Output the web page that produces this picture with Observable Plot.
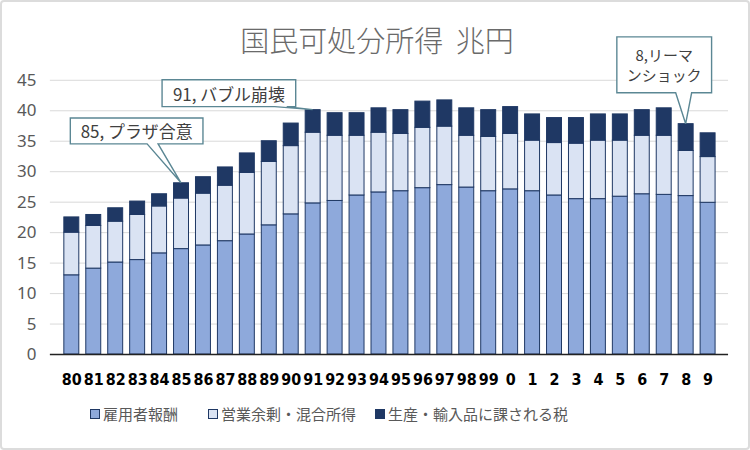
<!DOCTYPE html>
<html><head><meta charset="utf-8">
<script src="https://cdn.jsdelivr.net/npm/d3@7"></script>
<script src="https://cdn.jsdelivr.net/npm/@observablehq/plot@0.6"></script>
<style>
body{margin:0;background:#fff;}
#wrap{position:relative;width:750px;height:450px;box-sizing:border-box;border:2px solid #dcdcdc;border-radius:4px;overflow:hidden;font-family:"Noto Sans CJK JP","Noto Sans",sans-serif;}
#title{position:absolute;top:19px;left:0;width:750px;text-align:center;font-size:29px;font-weight:300;color:#6a6a6a;line-height:36px;word-spacing:6px;}
#chart{position:absolute;top:-2px;left:-2px;}
.leg{position:absolute;top:402px;font-size:15px;color:#595959;display:flex;align-items:center;line-height:20px;}
.sw{width:8px;height:8px;border:1px solid #1F3864;margin-right:3px;}
</style></head>
<body>
<div id="wrap">
<div id="title">国民可処分所得 兆円</div>
<div id="chart"></div>
<div id="legend"></div>
</div>
<script>
const years = ["80","81","82","83","84","85","86","87","88","89","90","91","92","93","94","95","96","97","98","99","0","1","2","3","4","5","6","7","8","9"];
const seriesNames = ["雇用者報酬","営業余剰・混合所得","生産・輸入品に課される税"];
const employee = [13.0,14.1,15.1,15.5,16.6,17.3,17.9,18.6,19.7,21.2,23.0,24.8,25.2,26.1,26.6,26.8,27.3,27.8,27.4,26.8,27.1,26.8,26.1,25.5,25.5,25.9,26.3,26.2,26.0,24.9];
const surplus = [7.0,7.0,6.7,7.4,7.7,8.3,8.5,9.1,10.1,10.4,11.2,11.6,10.7,9.8,9.8,9.4,9.9,9.6,8.5,8.9,9.1,8.3,8.6,9.1,9.6,9.2,9.6,9.7,7.4,7.5];
const tax = [2.5,1.8,2.2,2.2,2.0,2.5,2.7,3.0,3.2,3.4,3.7,3.7,3.7,3.7,4.0,3.9,4.3,4.3,4.5,4.4,4.4,4.3,4.1,4.2,4.3,4.3,4.2,4.5,4.4,3.9];
const yTicks = [0,5,10,15,20,25,30,35,40,45];
const colors = ["#8EA9DB","#DAE3F3","#1F3864"];
const calloutYears = ["85","91","8"];
const calloutTexts = [["85, プラザ合意"],["91, バブル崩壊"],["8,リーマ","ンショック"]];

const seriesValues = [employee, surplus, tax];
const data = [];
seriesNames.forEach((s, si) => years.forEach((y, i) => data.push({year: y, series: s, value: seriesValues[si][i]})));
const totals = years.map((y, i) => employee[i] + surplus[i] + tax[i]);

// callout layout (box offsets relative to the bar top anchor)
const calloutLayout = [
  {bx0:-111, bx1:22, by0:-65, by1:-39, w0:-34, w1:-23, fs:17},
  {bx0:-151, bx1:-17, by0:-30, by1:-3, w0:-38, w1:-26, fs:17},
  {bx0:-69, bx1:26, by0:-87, by1:-31, w0:-10, w1:6, fs:15}
];

function callouts(index, scales) {
  const g = d3.create("svg:g");
  const xs = scales.x;
  const bw = (typeof xs.bandwidth === "function") ? xs.bandwidth() : (scales.scales && scales.scales.x ? scales.scales.x.bandwidth : 0);
  calloutYears.forEach((yr, k) => {
    const i = years.indexOf(yr);
    const ax = xs(yr) + bw / 2;
    const ay = scales.y(totals[i]);
    const L = calloutLayout[k];
    const p = `M${ax+L.bx0},${ay+L.by0}H${ax+L.bx1}V${ay+L.by1}H${ax+L.w1}L${ax},${ay}L${ax+L.w0},${ay+L.by1}H${ax+L.bx0}Z`;
    g.append("path").attr("d", p).attr("fill", "#fff").attr("stroke", "#5b8794").attr("stroke-width", 1.4);
    const lines = calloutTexts[k];
    const cx = ax + (L.bx0 + L.bx1) / 2;
    const cy = ay + (L.by0 + L.by1) / 2;
    const lh = 20;
    lines.forEach((t, j) => {
      g.append("text").attr("x", cx).attr("y", cy + (j - (lines.length - 1) / 2) * lh)
        .attr("text-anchor", "middle").attr("dominant-baseline", "central")
        .attr("font-size", L.fs).attr("fill", "#404040")
        .attr("font-family", "'Noto Sans CJK JP','Noto Sans',sans-serif")
        .text(t);
    });
  });
  return g.node();
}

const chart = Plot.plot({
  width: 750,
  height: 400,
  marginTop: 80,
  marginBottom: 45,
  marginLeft: 50,
  marginRight: 20,
  style: {fontFamily: "'Noto Sans','DejaVu Sans',sans-serif", fontSize: "17px", color: "#595959", overflow: "visible", background: "transparent"},
  x: {domain: years, paddingInner: 0.33, paddingOuter: 0.24, label: null},
  y: {domain: [0, 45], ticks: yTicks, label: null},
  color: {domain: seriesNames, range: colors},
  marks: [
    Plot.gridY(yTicks, {stroke: "#d9d9d9", strokeOpacity: 1}),
    Plot.barY(data, {x: "year", y: "value", fill: "series", stroke: "#1F3864", strokeWidth: 1}),
    Plot.ruleY([0], {stroke: "#222", strokeWidth: 1.5}),
    Plot.axisY(yTicks, {tickSize: 0, tickPadding: 14, fontSize: 17, fill: "#595959", label: null}),
    Plot.axisX({tickSize: 0, tickPadding: 19, fontSize: 16, fontWeight: "bold", fill: "#000", fontFamily: "'Liberation Sans Narrow','DejaVu Sans Condensed',sans-serif", label: null}),
    callouts
  ]
});
document.getElementById("chart").appendChild(chart);

const legendPos = [88, 206, 373];
const leg = document.getElementById("legend");
seriesNames.forEach((s, i) => {
  const d = document.createElement("div");
  d.className = "leg";
  d.style.left = legendPos[i] + "px";
  d.innerHTML = `<span class="sw" style="background:${colors[i]}"></span><span>${s}</span>`;
  leg.appendChild(d);
});
</script>
</body></html>
